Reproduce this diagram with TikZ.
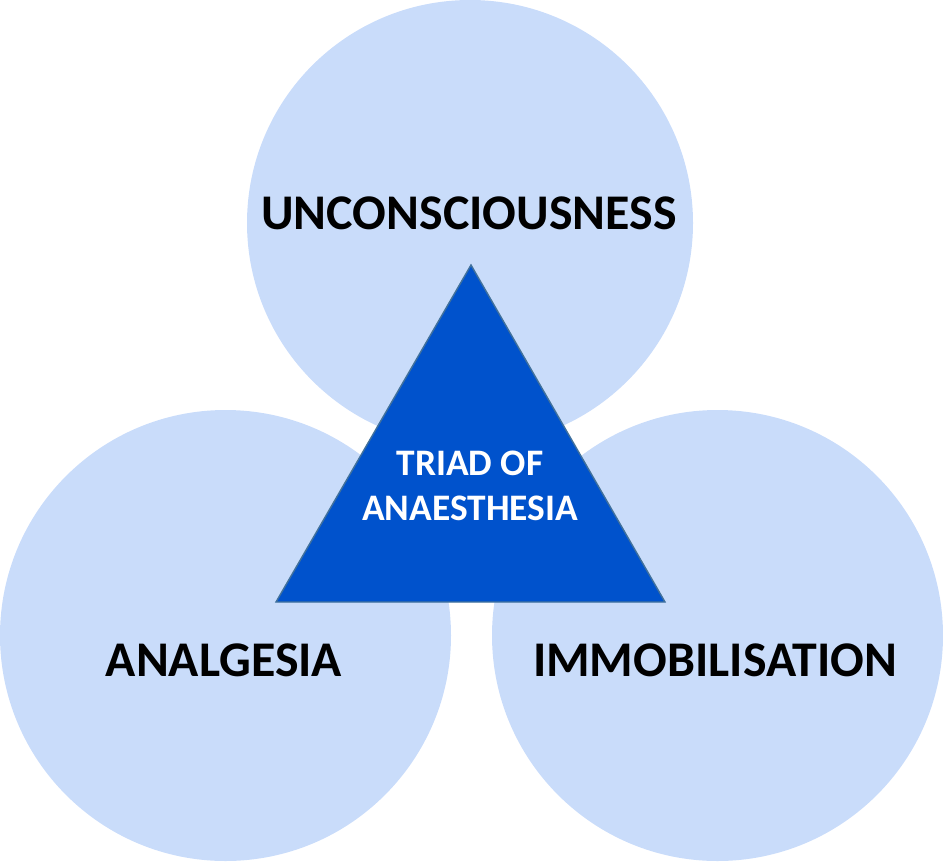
\documentclass[tikz,border=0pt]{standalone}
\usepackage{fontspec}
\setmainfont{Carlito}
\usepackage{tikz}

\definecolor{circlefill}{HTML}{C9DCFA}
\definecolor{trianglefill}{HTML}{0052CC}
\definecolor{triangleedge}{HTML}{41719C}

\begin{document}
\begin{tikzpicture}[
    lobe/.style={circle, fill=circlefill, inner sep=0pt},
    lobelabel/.style={anchor=base, font=\fontsize{28.4}{34}\selectfont\bfseries},
    centrelabel/.style={anchor=base, text=white, font=\fontsize{21.3}{26}\selectfont\bfseries}
  ]
  \useasboundingbox (0,0) rectangle (18.86,17.22);
  % Three overlapping circles
  \node[lobe, minimum size=8.92cm] (top) at (9.40,12.76) {};
  \node[lobe, minimum size=9.02cm] (left) at (4.51,4.51) {};
  \node[lobe, minimum size=9.02cm] (right) at (14.35,4.51) {};
  % Circle labels
  \node[lobelabel] (uncon) at (9.38,12.64) {UNCONSCIOUSNESS};
  \node[lobelabel] (analg) at (4.48,3.70) {ANALGESIA};
  \node[lobelabel] (immob) at (14.30,3.70) {IMMOBILISATION};
  % Central triangle
  \coordinate (apex) at (9.42,11.92);
  \coordinate (baseL) at (5.52,5.18);
  \coordinate (baseR) at (13.30,5.18);
  \draw[fill=trianglefill, draw=triangleedge, line width=0.8pt, line join=miter]
    (apex) -- (baseL) -- (baseR) -- cycle;
  \node[centrelabel] (triad) at (9.40,7.72) {TRIAD OF};
  \node[centrelabel] (anaes) at (9.40,6.82) {ANAESTHESIA};
\end{tikzpicture}
\end{document}
